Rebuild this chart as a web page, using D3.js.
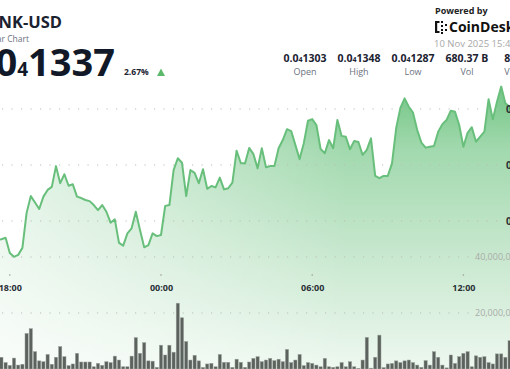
<!DOCTYPE html>
<html><head><meta charset="utf-8">
<script src="https://cdn.jsdelivr.net/npm/d3@7"></script>
<style>html,body{margin:0;padding:0;background:#fff;overflow:hidden}svg{display:block;font-family:"Open Sans",sans-serif}</style>
</head><body><svg id="c" width="510" height="369"></svg>
<script>
// ---- data ----
const priceStart = Date.UTC(2025, 10, 9, 17, 30); // first price point
const volumeStart = Date.UTC(2025, 10, 9, 17, 40); // first volume bar
const stepMinutes = 10;
// BONK-USD price, in units of 1e-8 USD (1337 => 0.00001337)
const priceE8 = [1293.2,1293.5,1294.0,1288.6,1287.2,1287.9,1290.4,1302.9,1308.9,1306.6,
1304.3,1308.7,1311.1,1312.2,1319.6,1313.5,1316.7,1312.6,1313.1,1308.7,
1308.2,1307.5,1307.1,1305.7,1303.9,1305.7,1303.3,1299.4,1300.6,1292.2,
1291.2,1295.6,1297.4,1303.3,1296.8,1290.6,1291.4,1295.6,1294.6,1295.0,
1305.4,1305.7,1318.2,1322.4,1320.8,1308.9,1318.2,1317.2,1313.5,1318.5,
1311.5,1312.5,1312.0,1315.5,1311.3,1311.7,1313.7,1325.1,1320.7,1320.5,
1326.1,1323.9,1318.8,1326.0,1319.2,1319.6,1319.6,1326.0,1328.9,1332.8,
1332.1,1327.1,1322.1,1327.8,1335.8,1336.4,1334.3,1325.7,1324.2,1328.9,
1326.0,1336.1,1330.4,1330.1,1325.6,1328.6,1328.2,1323.6,1325.4,1329.5,
1316.1,1315.3,1316.1,1316.1,1320.6,1333.2,1340.4,1343.8,1340.8,1338.7,
1332.5,1328.0,1326.2,1326.5,1326.8,1331.9,1334.6,1336.1,1339.4,1339.0,
1334.3,1326.5,1331.5,1333.5,1328.3,1330.1,1331.9,1343.5,1336.3,1342.6,
1348.0,1342.0,1340.8,1337.0];
// volume, millions
const volumeM = [4.2,2.3,1.3,3.9,1.4,1.7,12.7,14.4,6.2,2.9,
2.6,5.2,1.7,4.2,8.0,4.4,1.2,1.8,5.6,2.5,
2.5,2.5,0.8,2.0,1.3,2.6,2.3,4.6,3.2,0.8,
0.8,4.6,11.2,5.6,9.4,2.9,2.8,0.6,8.5,5.0,
8.5,6.0,23.5,18.3,9.8,3.2,4.9,2.9,0.6,1.8,
2.0,0.8,5.2,2.4,2.4,0.6,3.5,2.4,0.6,2.5,3.8,
4.4,2.6,3.2,3.8,3.0,3.5,2.6,7.0,2.3,3.2,
5.2,1.2,2.3,2.0,1.4,0.8,3.8,0.8,0.6,0.8,
2.3,0.8,2.6,0.8,0.2,3.2,11.3,0.3,4.2,12.1,
0.5,1.8,2.0,2.9,2.3,2.9,3.2,2.3,1.4,0.6,
3.0,1.4,6.2,4.2,1.4,0.4,5.0,2.0,4.4,5.6,
6.2,0.8,4.7,4.2,4.4,2.3,1.8,5.4,5.4,4.2,10.1];
const timeTicks = [Date.UTC(2025,10,9,18), Date.UTC(2025,10,10,0), Date.UTC(2025,10,10,6), Date.UTC(2025,10,10,12)];
const priceTicks = [1300, 1320, 1340];
const volumeTicks = [20, 40];
const statValues = [["0.0","4","1303"],["0.0","4","1348"],["0.0","4","1287"],["680.37 B","",""],["8.93 M","",""]];
const statLabels = ["Open","High","Low","Vol","Vol USD"];

// ---- scales ----
const svg = d3.select("#c");
const x = d3.scaleUtc().domain([timeTicks[0], timeTicks[3]]).range([9.8, 463.4]);
const yP = d3.scaleLinear().domain([1300, 1340]).range([221, 109]);
const yV = d3.scaleLinear().domain([0, 40]).range([369, 257]);
const step = stepMinutes * 60000;
const priceData = priceE8.map((p, i) => ({t: priceStart + i * step, p}));
const volData = volumeM.map((v, i) => ({t: volumeStart + i * step, v}));

const defs = svg.append("defs");
const g = defs.append("linearGradient").attr("id","ag").attr("gradientUnits","userSpaceOnUse")
  .attr("x1",0).attr("y1",83).attr("x2",0).attr("y2",369);
g.append("stop").attr("offset",0).attr("stop-color","#70c483");
g.append("stop").attr("offset",0.234).attr("stop-color","#a2d9ae");
g.append("stop").attr("offset",0.584).attr("stop-color","#c6e7cd");
g.append("stop").attr("offset",1).attr("stop-color","#eef8f0");
const mg = defs.append("linearGradient").attr("id","mg").attr("gradientUnits","userSpaceOnUse")
  .attr("x1",0).attr("y1",0).attr("x2",510).attr("y2",0);
mg.append("stop").attr("offset",0).attr("stop-color","#fff").attr("stop-opacity",0.3);
mg.append("stop").attr("offset",0.3).attr("stop-color","#fff").attr("stop-opacity",0.6);
mg.append("stop").attr("offset",0.68).attr("stop-color","#fff").attr("stop-opacity",1);
mg.append("stop").attr("offset",1).attr("stop-color","#fff").attr("stop-opacity",1);
defs.append("mask").attr("id","am").attr("maskUnits","userSpaceOnUse")
  .attr("x",0).attr("y",0).attr("width",510).attr("height",369)
  .append("rect").attr("width",510).attr("height",369).attr("fill","url(#mg)");

// area
svg.append("path").datum(priceData)
  .attr("d", d3.area().x(d => x(d.t)).y0(369).y1(d => yP(d.p)))
  .attr("fill","url(#ag)").attr("mask","url(#am)");

// gridlines
const grid = svg.append("g");
grid.selectAll(".gp").data(priceTicks).join("line")
  .attr("x1",2).attr("x2",502).attr("y1",d=>yP(d)).attr("y2",d=>yP(d))
  .attr("stroke","#b9bdb9").attr("stroke-width",1).attr("stroke-dasharray","1.2 8.3");
grid.selectAll(".gv").data(volumeTicks).join("line")
  .attr("x1",2).attr("x2",470).attr("y1",d=>yV(d)).attr("y2",d=>yV(d))
  .attr("stroke","#b9bdb9").attr("stroke-width",1).attr("stroke-dasharray","1.2 8.3");

// line
svg.append("path").datum(priceData)
  .attr("d", d3.line().x(d => x(d.t)).y(d => yP(d.p)))
  .attr("fill","none").attr("stroke","#68bf7b").attr("stroke-width",2).attr("stroke-linejoin","round");

// volume bars
svg.append("g").selectAll("rect").data(volData).join("rect")
  .attr("x", d => x(d.t) - 1.6).attr("width", 3.2)
  .attr("y", d => yV(d.v)).attr("height", d => yV(0) - yV(d.v))
  .attr("fill","#5c625d").attr("stroke","#9aa19b").attr("stroke-width",0.5);

// x axis
const ax = svg.append("g").attr("transform","translate(0,282)")
  .call(d3.axisBottom(x).tickValues(timeTicks).tickFormat(d3.utcFormat("%H:%M")).tickSize(0).tickPadding(3));
ax.select(".domain").remove();
ax.selectAll("text").attr("font-size",9).attr("font-weight",700).attr("fill","#2a2f36").attr("font-family","Open Sans");
svg.append("g").selectAll("circle").data(timeTicks).join("circle")
  .attr("cx", d => x(d)).attr("cy", 275).attr("r", 0.8).attr("fill","#9a9a9a");

// y labels
svg.append("g").selectAll("text").data(priceTicks).join("text")
  .attr("x",506).attr("y",d=>yP(d)).attr("dy","0.35em")
  .attr("font-size",10).attr("font-weight",700).attr("fill","#2a2f36")
  .text(d => "0.0₄" + d);
svg.append("g").selectAll("text").data(volumeTicks).join("text")
  .attr("x",475).attr("y",d=>yV(d)).attr("dy","0.35em")
  .attr("font-size",9).attr("fill","#a9aca9")
  .text(d => d3.format(",")(d * 1e6));

// header
svg.append("text").attr("x",62).attr("y",28).attr("text-anchor","end")
  .attr("font-size",16.5).attr("font-weight",700).attr("fill","#1b2230").text("BONK-USD");
svg.append("text").attr("x",29).attr("y",42.3).attr("text-anchor","end")
  .attr("font-size",8.5).attr("fill","#6b7280").text("Bar Chart");
const big = svg.append("text").attr("x",115).attr("y",76).attr("text-anchor","end")
  .attr("font-weight",700).attr("fill","#111827");
big.append("tspan").attr("font-size",38).text("0.0");
big.append("tspan").attr("font-size",19).text("4");
big.append("tspan").attr("font-size",38).text("1337");
svg.append("text").attr("x",124).attr("y",75).attr("font-size",8.5).attr("font-weight",700)
  .attr("fill","#1b2230").text("2.67%");
svg.append("path").attr("d","M157,76 L161,68.5 L165,76 Z").attr("fill","#5cb96b");

svg.append("text").attr("x",435).attr("y",14).attr("font-size",9).attr("font-weight",700)
  .attr("fill","#222").text("Powered by");
const logo = svg.append("g").attr("fill","#111");
logo.append("rect").attr("x",435).attr("y",21).attr("width",2.2).attr("height",12);
logo.append("rect").attr("x",435).attr("y",21).attr("width",4.5).attr("height",2);
logo.append("rect").attr("x",435).attr("y",31).attr("width",4.5).attr("height",2);
[[441,22],[441,26],[441,30],[445,25],[445,30],[441,33]].forEach(([cx,cy]) =>
  logo.append("rect").attr("x",cx).attr("y",cy-1).attr("width",2).attr("height",2));
svg.append("text").attr("x",449).attr("y",32).attr("font-size",14).attr("font-weight",700)
  .attr("fill","#111").text("CoinDesk");
svg.append("text").attr("x",434).attr("y",47).attr("font-size",9.5)
  .attr("fill","#a8a8a8").text("10 Nov 2025 15:40");

const centers = [305, 359, 413, 467, 521];
statValues.forEach((sv, i) => {
  const t = svg.append("text").attr("x", centers[i]).attr("y", 62).attr("text-anchor","middle")
    .attr("font-weight",700).attr("fill","#1b2230");
  t.append("tspan").attr("font-size",10.5).text(sv[0]);
  if (sv[1]) t.append("tspan").attr("font-size",7).text(sv[1]);
  if (sv[2]) t.append("tspan").attr("font-size",10.5).text(sv[2]);
  svg.append("text").attr("x", centers[i]).attr("y", 75).attr("text-anchor","middle")
    .attr("font-size",9).attr("fill","#6b7280").text(statLabels[i]);
});
</script></body></html>
